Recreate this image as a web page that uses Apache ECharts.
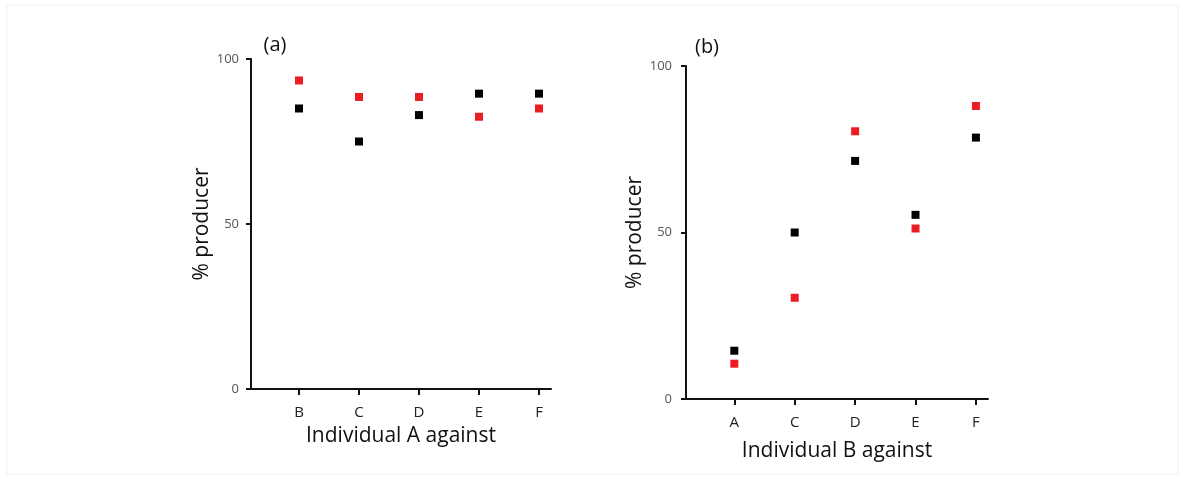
<!DOCTYPE html>
<html>
<head>
<meta charset="utf-8">
<script src="https://cdn.jsdelivr.net/npm/echarts@6/dist/echarts.min.js"></script>
<style>
html,body{margin:0;padding:0;background:#fff;}
#chart{width:1185px;height:479px;}
</style>
</head>
<body>
<div id="chart"></div>
<script>
// Panel (a): Individual A against
const categoriesA = ['B', 'C', 'D', 'E', 'F'];
const blackA = [85, 75, 83, 89.5, 89.5];
const redA = [93.5, 88.5, 88.5, 82.5, 85];

// Panel (b): Individual B against
const categoriesB = ['A', 'C', 'D', 'E', 'F'];
const blackB = [14.5, 50, 71.5, 55.3, 78.5];
const redB = [10.6, 30.4, 80.4, 51.2, 88];

const yTicks = [0, 50, 100];

const FONT = 'Open Sans';
const RED = '#ec1c24';
const BLACK = '#000000';

function toPoints(arr) { return arr.map((v, i) => [i, v]); }
const idxs = (cats) => cats.map((_, i) => i);

function xAxis(gridIndex, cats, name, nameGap) {
  return {
    type: 'value', gridIndex: gridIndex,
    min: -0.8, max: cats.length - 0.8,
    name: name, nameLocation: 'middle', nameGap: nameGap,
    nameTextStyle: {fontFamily: FONT, fontSize: 21, color: '#111'},
    axisLine: {show: true, onZero: false, lineStyle: {color: '#111', width: 2}},
    axisTick: {show: true, length: 6, lineStyle: {color: '#111', width: 2}, customValues: idxs(cats)},
    axisLabel: {show: true, margin: 16, fontFamily: FONT, fontSize: 15, color: '#222',
      customValues: idxs(cats), formatter: (v) => cats[Math.round(v)]},
    splitLine: {show: false}
  };
}
function yAxis(gridIndex, nameGap, labelMargin) {
  return {
    type: 'value', gridIndex: gridIndex, min: 0, max: 100, interval: 50,
    name: '% producer', nameLocation: 'middle', nameGap: nameGap, nameRotate: 90,
    nameTextStyle: {fontFamily: FONT, fontSize: 21, color: '#111'},
    axisLine: {show: true, onZero: false, lineStyle: {color: '#111', width: 2}},
    axisTick: {show: true, length: 5, lineStyle: {color: '#111', width: 2}},
    axisLabel: {show: true, margin: labelMargin, fontFamily: FONT, fontSize: 13, color: '#555'},
    splitLine: {show: false}
  };
}
function scatter(xi, data, color) {
  return {
    type: 'scatter', xAxisIndex: xi, yAxisIndex: xi,
    symbol: 'rect', symbolSize: 8,
    itemStyle: {color: color, opacity: 1},
    data: toPoints(data), silent: true
  };
}

const chart = echarts.init(document.getElementById('chart'), null, {renderer: 'canvas'});
chart.setOption({
  backgroundColor: '#ffffff',
  animation: false,
  grid: [
    {left: 251, top: 59, width: 300, height: 330},
    {left: 686, top: 66, width: 302, height: 333}
  ],
  xAxis: [
    xAxis(0, categoriesA, 'Individual A against', 37),
    xAxis(1, categoriesB, 'Individual B against', 42)
  ],
  yAxis: [
    yAxis(0, 33, 12),
    yAxis(1, 38, 14)
  ],
  series: [
    scatter(0, blackA, BLACK),
    scatter(0, redA, RED),
    scatter(1, blackB, BLACK),
    scatter(1, redB, RED)
  ],
  graphic: [
    {type: 'rect', shape: {x: 7, y: 5, width: 1171, height: 469},
      style: {fill: 'none', stroke: '#f7f7f7', lineWidth: 2}, silent: true},
    {type: 'text', x: 275, y: 45, style: {text: '(a)', fontFamily: FONT, fontSize: 20, fill: '#111',
      align: 'center', verticalAlign: 'middle'}},
    {type: 'text', x: 707, y: 47, style: {text: '(b)', fontFamily: FONT, fontSize: 20, fill: '#111',
      align: 'center', verticalAlign: 'middle'}}
  ]
});
</script>
</body>
</html>
